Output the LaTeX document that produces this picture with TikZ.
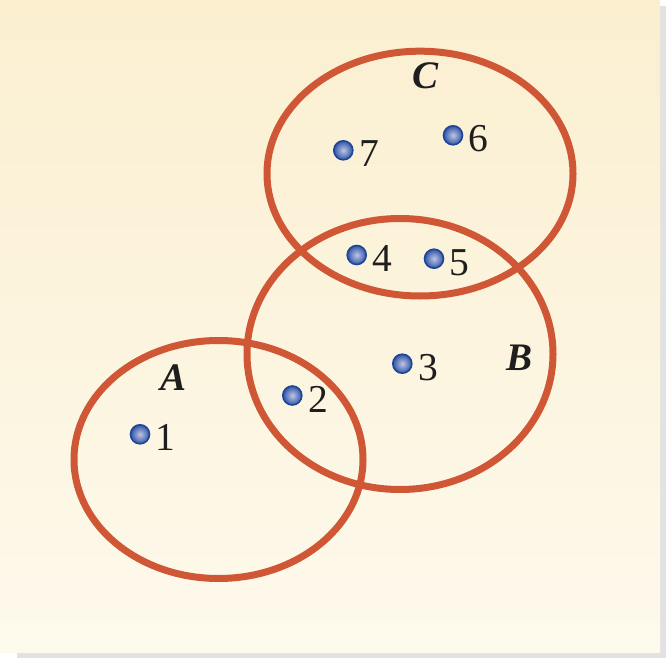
\documentclass[tikz,border=0pt]{standalone}
\usepackage{fontspec}
\setmainfont{Liberation Serif}
\definecolor{ring}{RGB}{207,87,53}
\definecolor{bgtop}{RGB}{251,239,208}
\definecolor{bgbot}{RGB}{253,249,236}
\definecolor{shadowgray}{RGB}{226,226,226}
\definecolor{dotin}{RGB}{190,198,228}
\definecolor{dotout}{RGB}{50,85,168}
\definecolor{dotrim}{RGB}{30,70,150}
\definecolor{ink}{RGB}{30,30,30}
\tikzset{
  ringline/.style={draw=ring, line width=7pt},
  dotball/.style={circle, minimum size=19pt, inner sep=0pt, draw=dotrim, line width=1.6pt,
    inner color=dotin, outer color=dotout},
  numlab/.style={inner sep=0pt, anchor=base west, text=ink, font=\fontsize{39.5}{42}\selectfont},
  setlab/.style={inner sep=0pt, anchor=base, text=ink, font=\fontsize{39}{42}\selectfont\bfseries\itshape},
}
\begin{document}
\begin{tikzpicture}[x=1pt, y=-1pt]
\useasboundingbox (0,0) rectangle (666,658);
% shadow and panel
\fill[shadowgray] (17,6) rectangle (666,658);
\shade[top color=bgtop, bottom color=bgbot] (0,0) rectangle (660,652);
% sets
\draw[ringline] (218.5,459.5) ellipse [x radius=144.5, y radius=119];
\draw[ringline] (400,354) ellipse [x radius=153, y radius=135.5];
\draw[ringline] (420,173.6) ellipse [x radius=153, y radius=122.4];
% set labels
\node[setlab] (lA) at (173.5,390.7) {A};
\node[setlab] (lB) at (519.5,370.7) {B};
\node[setlab] (lC) at (425.5,88.5) {C};
% points
\node[dotball] (p1) at (140,434.3) {};
\node[dotball] (p2) at (292.3,395.5) {};
\node[dotball] (p3) at (402.3,363.7) {};
\node[dotball] (p4) at (356.7,255) {};
\node[dotball] (p5) at (434,258.7) {};
\node[dotball] (p6) at (453,135.3) {};
\node[dotball] (p7) at (343.3,150.3) {};
\foreach \i in {1,...,7}{
  \node[numlab] (t\i) at ([xshift=15.5pt,yshift=-16.5pt]p\i.center) {\i};
}
\end{tikzpicture}
\end{document}
